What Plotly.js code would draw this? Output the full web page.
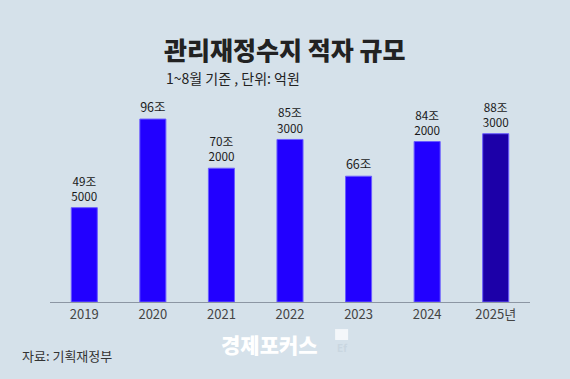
<!DOCTYPE html>
<html><head><meta charset="utf-8">
<script src="https://cdn.plot.ly/plotly-3.0.1.min.js"></script>
<style>html,body{margin:0;padding:0;background:#d5e1ea;}#c{width:570px;height:379px;}</style>
</head><body><div id="c"></div>
<script>
const years = ['2019','2020','2021','2022','2023','2024','2025년'];
const deficit = [495000, 960000, 702000, 853000, 660000, 842000, 883000]; // 억원
const barColors = ['#2200ff','#2200ff','#2200ff','#2200ff','#2200ff','#2200ff','#1c00a8'];

const yVals = deficit.map(v => v / 10000); // 조원
const labels = deficit.map(v => {
  const jo = Math.floor(v / 10000), rest = v % 10000;
  return rest ? jo + '조<br>' + rest : jo + '조';
});

const font = 'Noto Sans CJK KR, Noto Sans, sans-serif';
const trace = {
  type: 'bar', x: years, y: yVals, text: labels,
  textposition: 'outside', cliponaxis: false,
  textfont: {family: font, size: 12.5, color: '#1a1a1a'},
  marker: {color: barColors, line: {color: '#6a5cff', width: 1}},
  hoverinfo: 'none'
};
const layout = {
  width: 570, height: 379,
  paper_bgcolor: '#d5e1ea', plot_bgcolor: '#d5e1ea',
  margin: {l: 50, r: 40, t: 100, b: 77},
  bargap: 0.62, showlegend: false,
  xaxis: {type: 'category', showline: true, linecolor: '#8c96a3', linewidth: 1, ticks: '', showgrid: false,
          tickfont: {family: font, size: 13, color: '#444'}, fixedrange: true},
  yaxis: {range: [0, 106], visible: false, showgrid: false, zeroline: false, fixedrange: true},
  shapes: [
    {type: 'rect', xref: 'paper', yref: 'paper', x0: 0.594, x1: 0.621, y0: -0.188, y1: -0.134,
     line: {width: 0}, fillcolor: '#f4f7fa'}
  ],
  annotations: [
    {text: '관리재정수지 적자 규모', xref: 'paper', yref: 'paper', x: 0.233, y: 1, xanchor: 'left', yanchor: 'middle',
     yshift: 51, showarrow: false, font: {family: font, size: 25, color: '#222', weight: 900}},
    {text: '1~8월 기준 , 단위: 억원', xref: 'paper', yref: 'paper', x: 0.237, y: 1, xanchor: 'left', yanchor: 'middle',
     yshift: 22, showarrow: false, font: {family: font, size: 14, color: '#222'}},
    {text: '자료: 기획재정부', xref: 'paper', yref: 'paper', x: -0.062, y: 0, xanchor: 'left', yanchor: 'middle',
     yshift: -53, showarrow: false, font: {family: font, size: 13, color: '#333'}},
    {text: '경제포커스', xref: 'paper', yref: 'paper', x: 0.352, y: 0, xanchor: 'left', yanchor: 'middle',
     yshift: -42, showarrow: false, font: {family: font, size: 21, color: '#ffffff', weight: 900}},
    {text: 'Ef', xref: 'paper', yref: 'paper', x: 0.594, y: 0, xanchor: 'left', yanchor: 'middle',
     yshift: -45, showarrow: false, font: {family: font, size: 10, color: '#c9d6e0', weight: 700}}
  ]
};
Plotly.newPlot('c', [trace], layout, {displayModeBar: false, staticPlot: true});
</script></body></html>
